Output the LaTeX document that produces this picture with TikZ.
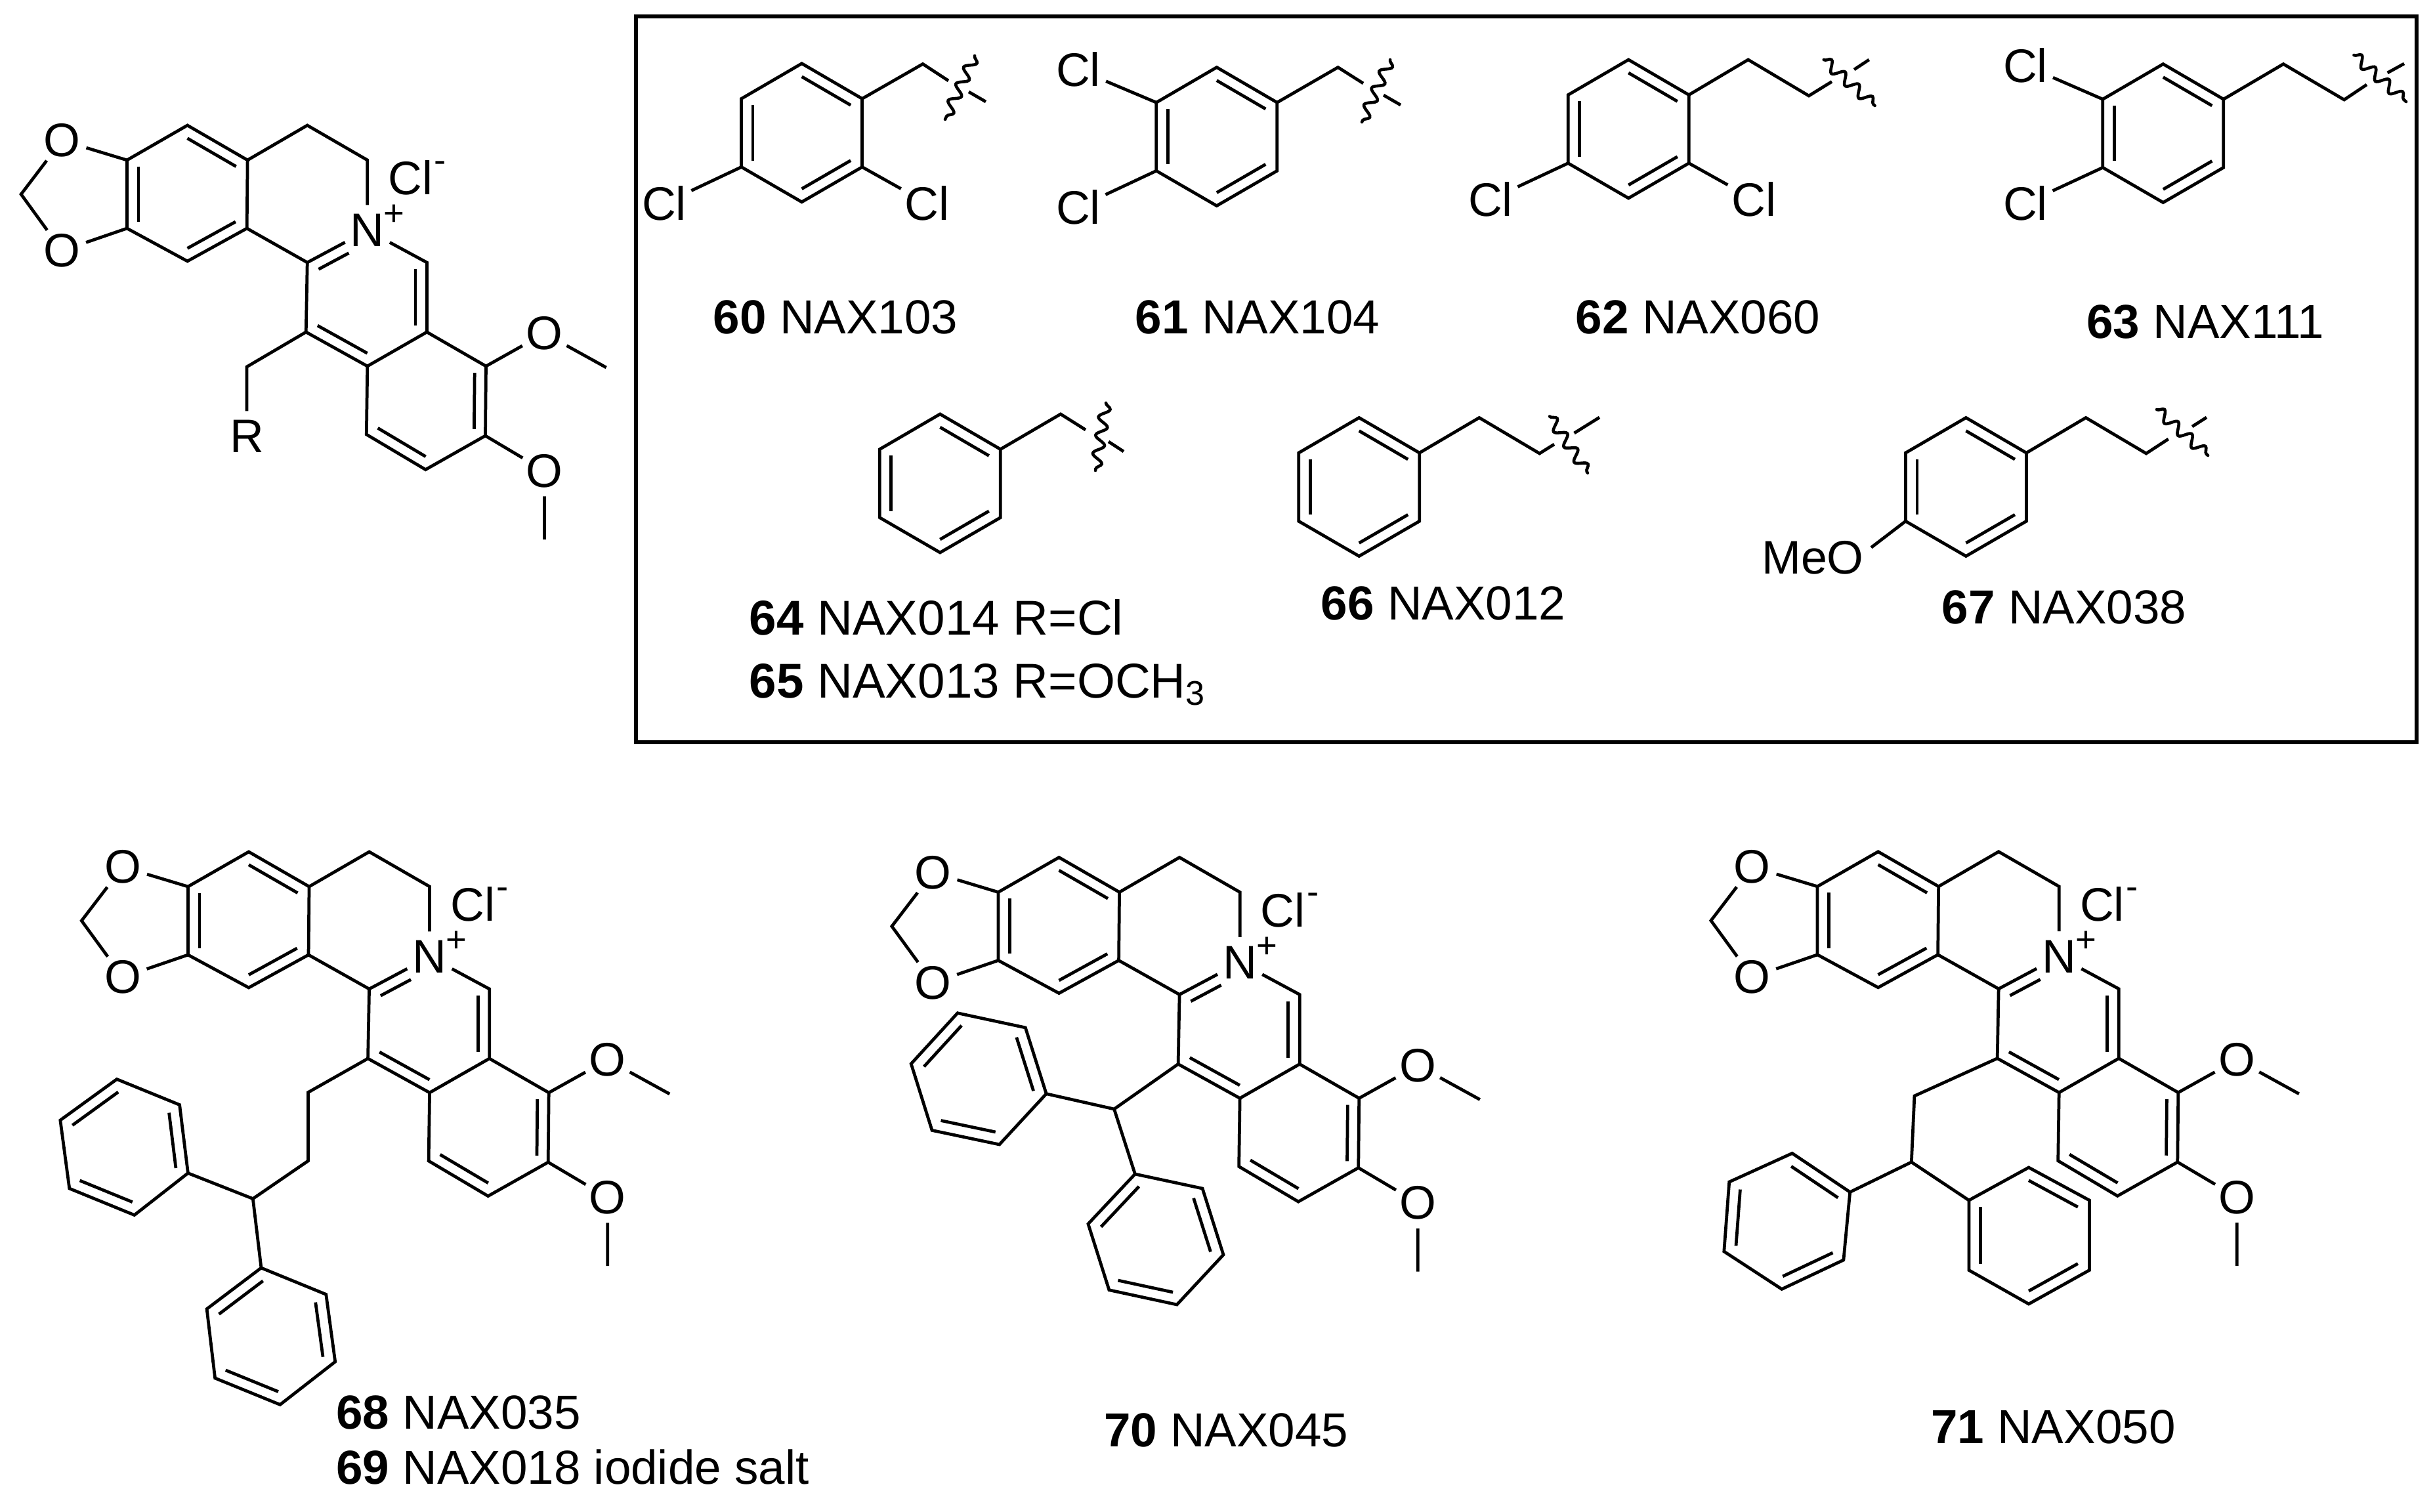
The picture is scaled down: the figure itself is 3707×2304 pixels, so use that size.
\documentclass[tikz,border=0pt]{standalone}
\usepackage{fontspec}
\setmainfont{Liberation Sans}
\usetikzlibrary{calc,decorations.pathmorphing}

\tikzset{
  bond/.style={line width=1.35pt, line join=miter},
  wavy/.style={line width=1.3pt, line cap=round, decorate, decoration={snake, segment length=.28cm, amplitude=.08cm}},
  atom/.style={circle, inner sep=0pt, minimum size=.76cm, font=\fontsize{20.4}{24}\selectfont},
  clatom/.style={circle, inner sep=0pt, minimum size=.9cm, font=\fontsize{20.4}{24}\selectfont},
  charge/.style={inner sep=0pt, font=\fontsize{15.5}{18}\selectfont},
  caption/.style={inner sep=0pt, anchor=base, font=\fontsize{20.7}{24}\selectfont},
  widecaption/.style={caption, anchor=base west, font=\fontsize{21.2}{24}\selectfont},
}

% inner line of a double bond: ring centre, then the two ends
\newcommand{\dbl}[3]{\draw[bond] ($(#1)!.81!(#2)$) -- ($(#1)!.81!(#3)$);}

% six-membered ring with three double bonds (1-2, 3-4, 5-6)
\newcommand{\phenyl}[7]{
  \coordinate (#1-1) at #2;
  \coordinate (#1-2) at #3;
  \coordinate (#1-3) at #4;
  \coordinate (#1-4) at #5;
  \coordinate (#1-5) at #6;
  \coordinate (#1-6) at #7;
  \coordinate (#1-c) at ($(#1-1)!.5!(#1-4)$);
  \draw[bond] (#1-1) -- (#1-2) -- (#1-3) -- (#1-4) -- (#1-5) -- (#1-6) -- cycle;
  \dbl{#1-c}{#1-1}{#1-2}
  \dbl{#1-c}{#1-3}{#1-4}
  \dbl{#1-c}{#1-5}{#1-6}
}

% upright ring of the boxed fragments, given by its top corner
\newcommand{\uprightring}[3]{
  \begin{scope}[shift={(#2,#3)}]
    \phenyl{#1}{(0,0)}{(92,53.6)}{(92,157.7)}{(0,211)}{(-92,157.7)}{(-92,53.6)}
  \end{scope}
}

% the tetracyclic cation, placed by its corner a
\newcommand{\cation}[4][]{
  \begin{scope}[shift={(#3,#4)}, #1, name prefix=#2-]
    \coordinate (a) at (0,0);
    \coordinate (b) at (93,-53);
    \coordinate (c) at (185.5,0);
    \coordinate (d) at (184.5,104);
    \coordinate (e) at (93,154);
    \coordinate (f) at (0,104);
    \coordinate (g) at (277.5,-53);
    \coordinate (h) at (370,0);
    \coordinate (i) at (277.5,156);
    \coordinate (j) at (461.5,156);
    \coordinate (k) at (275.5,262);
    \coordinate (l) at (461.5,262);
    \coordinate (m) at (370,314);
    \coordinate (n) at (552.5,314);
    \coordinate (p) at (551.5,420);
    \coordinate (q) at (459.5,471.6);
    \coordinate (r) at (368.5,418);
    \coordinate (ch) at (-163,52);
    \coordinate (me1) at (737.5,316);
    \coordinate (me2) at (642.5,578);
    \coordinate (c1) at (92.75,51);
    \coordinate (c3) at (369,210);
    \coordinate (c4) at (460.5,367);
    \node[atom] (o1) at (-100,-30) {O};
    \node[atom] (o2) at (-100,138) {O};
    \node[atom] (nplus) at (370,107) {N};
    \node[atom] (o3) at (642.5,264) {O};
    \node[atom] (o4) at (642.5,473.6) {O};
    \node[charge] (plus) at (411,84) {+};
    \node[clatom] (cl) at (436,27) {Cl};
    \node[charge] (minus) at (482,10) {-};

    % bonds of the skeleton
    \draw[bond] (a) -- (b) -- (c) -- (d) -- (e) -- (f) -- cycle;
    \draw[bond] (a) -- (o1) -- (ch) -- (o2) -- (f);
    \draw[bond] (c) -- (g) -- (h) -- (nplus);
    \draw[bond] (d) -- (i) -- (k) -- (m) -- (l) -- (j) -- (nplus);
    \draw[bond] (i) -- (nplus);
    \draw[bond] (m) -- (r) -- (q) -- (p) -- (n) -- (l);
    \draw[bond] (n) -- (o3) -- (me1);
    \draw[bond] (p) -- (o4) -- (me2);

    % inner lines
    \dbl{c1}{a}{f}
    \dbl{c1}{b}{c}
    \dbl{c1}{d}{e}
    \draw[bond] ($(c3)!.81!(i)$) -- ($(c3)!.81!($(i)!.62!(nplus)$)$);
    \dbl{c3}{j}{l}
    \dbl{c3}{k}{m}
    \dbl{c4}{n}{p}
    \dbl{c4}{q}{r}
  \end{scope}
}

\begin{document}
\begin{tikzpicture}[x=.01cm, y=-.01cm]
  \useasboundingbox (0,0) rectangle (3707,2304);

  % Top left cation
  \cation[xscale=.99]{m0}{193.5}{244}
  \coordinate (s0) at (376,559);
  \node[atom] (rgroup) at (376,665) {R};
  \draw[bond] (m0-k) -- (s0) -- (rgroup);

  % Box of the fragments
  \draw[line width=1.6pt] (969,25) rectangle (3682,1131);

  % 60
  \uprightring{r60}{1221.6}{96.8}
  \coordinate (a60) at (1406,97.5);
  \coordinate (b60) at (1445,123);
  \coordinate (w60a) at (1485,85);
  \coordinate (w60b) at (1440,182);
  \coordinate (t60a) at (1476,140);
  \coordinate (t60b) at (1502,155);
  \node[clatom] (cl60a) at (1012,310) {Cl};
  \node[clatom] (cl60b) at (1412.7,310) {Cl};
  \draw[bond] (r60-2) -- (a60) -- (b60);
  \draw[bond] (t60a) -- (t60b);
  \draw[wavy] (w60a) -- (w60b);
  \draw[bond] (r60-5) -- (cl60a);
  \draw[bond] (r60-3) -- (cl60b);
  \node[caption] (n60) at (1273,509) {\textbf{60} NAX103};

  % 61
  \uprightring{r61}{1853.8}{102.6}
  \coordinate (a61) at (2038.6,102.6);
  \coordinate (b61) at (2077,127);
  \coordinate (w61a) at (2118,91);
  \coordinate (w61b) at (2075,186);
  \coordinate (t61a) at (2108,145);
  \coordinate (t61b) at (2134,160);
  \node[clatom] (cl61a) at (1643,106) {Cl};
  \node[clatom] (cl61b) at (1643,316) {Cl};
  \draw[bond] (r61-2) -- (a61) -- (b61);
  \draw[bond] (t61a) -- (t61b);
  \draw[wavy] (w61a) -- (w61b);
  \draw[bond] (r61-6) -- (cl61a);
  \draw[bond] (r61-5) -- (cl61b);
  \node[caption] (n61) at (1916,509) {\textbf{61} NAX104};

  % 62
  \uprightring{r62}{2481.2}{91}
  \coordinate (a62) at (2663.5,91);
  \coordinate (b62) at (2756,146);
  \coordinate (c62) at (2791,124.4);
  \coordinate (w62a) at (2778.7,91);
  \coordinate (w62b) at (2856.5,161);
  \coordinate (t62a) at (2825,106);
  \coordinate (t62b) at (2847.7,91);
  \node[clatom] (cl62a) at (2271,304) {Cl};
  \node[clatom] (cl62b) at (2672.3,304) {Cl};
  \draw[bond] (r62-2) -- (a62) -- (b62) -- (c62);
  \draw[bond] (t62a) -- (t62b);
  \draw[wavy] (w62a) -- (w62b);
  \draw[bond] (r62-5) -- (cl62a);
  \draw[bond] (r62-3) -- (cl62b);
  \node[caption] (n62) at (2587,509) {\textbf{62} NAX060};

  % 63
  \uprightring{r63}{3295.8}{97.6}
  \coordinate (a63) at (3479,97.6);
  \coordinate (b63) at (3571.6,152);
  \coordinate (c63) at (3606,129);
  \coordinate (w63a) at (3586.4,84);
  \coordinate (w63b) at (3666,155);
  \coordinate (t63a) at (3637.6,111);
  \coordinate (t63b) at (3663,97);
  \node[clatom] (cl63a) at (3086,100) {Cl};
  \node[clatom] (cl63b) at (3086,310) {Cl};
  \draw[bond] (r63-2) -- (a63) -- (b63) -- (c63);
  \draw[bond] (t63a) -- (t63b);
  \draw[wavy] (w63a) -- (w63b);
  \draw[bond] (r63-6) -- (cl63a);
  \draw[bond] (r63-5) -- (cl63b);
  \node[caption] (n63) at (3360,515.5) {\textbf{63} NAX111};

  % 64 and 65
  \uprightring{r64}{1432.3}{631}
  \coordinate (a64) at (1616,631);
  \coordinate (b64) at (1654,655);
  \coordinate (w64a) at (1685,614);
  \coordinate (w64b) at (1669,717);
  \coordinate (t64a) at (1689,673);
  \coordinate (t64b) at (1712,688);
  \draw[bond] (r64-2) -- (a64) -- (b64);
  \draw[bond] (t64a) -- (t64b);
  \draw[wavy] (w64a) -- (w64b);
  \node[widecaption] (n64) at (1141,967.6) {\textbf{64} NAX014 R=Cl};
  \node[widecaption] (n65) at (1141,1063) {\textbf{65} NAX013 R=OCH\textsubscript{3}};

  % 66
  \uprightring{r66}{2070.7}{636.5}
  \coordinate (a66) at (2253.8,636.5);
  \coordinate (b66) at (2345.7,691);
  \coordinate (c66) at (2368,677);
  \coordinate (w66a) at (2361,634.6);
  \coordinate (w66b) at (2419,720.7);
  \coordinate (t66a) at (2398.5,660);
  \coordinate (t66b) at (2437,636);
  \draw[bond] (r66-2) -- (a66) -- (b66) -- (c66);
  \draw[bond] (t66a) -- (t66b);
  \draw[wavy] (w66a) -- (w66b);
  \node[caption] (n66) at (2199,944.6) {\textbf{66} NAX012};

  % 67
  \uprightring{r67}{2995.4}{636.5}
  \coordinate (a67) at (3178,636.5);
  \coordinate (b67) at (3270,691);
  \coordinate (c67) at (3303.7,669);
  \coordinate (w67a) at (3286,624);
  \coordinate (w67b) at (3364,694);
  \coordinate (t67a) at (3340,650);
  \coordinate (t67b) at (3362,636);
  \node[inner sep=3pt, font=\fontsize{20.4}{24}\selectfont] (meo) at (2762,850) {MeO};
  \draw[bond] (r67-2) -- (a67) -- (b67) -- (c67);
  \draw[bond] (t67a) -- (t67b);
  \draw[wavy] (w67a) -- (w67b);
  \draw[bond] (r67-5) -- (meo.10);
  \node[caption] (n67) at (3145,950) {\textbf{67} NAX038};

  % 68 and 69
  \begin{scope}[shift={(60,0)}, xscale=.995, shift={(-60,0)}]
    \cation{m68}{287.6}{1351}
    \coordinate (s68a) at (471.5,1664.6);
    \coordinate (s68b) at (471.5,1769);
    \coordinate (s68c) at (387,1826.6);
    \phenyl{ph68a}{(287.6,1787.6)}{(274.7,1683.5)}{(178.6,1644.5)}{(92,1707)}{(106,1811)}{(205.5,1851.5)}
    \phenyl{ph68b}{(399.7,1932)}{(316.4,1994.6)}{(329,2100)}{(428.6,2140.4)}{(513,2075)}{(499,1972.4)}
    \draw[bond] (m68-k) -- (s68a) -- (s68b) -- (s68c) -- (ph68a-1);
    \draw[bond] (s68c) -- (ph68b-1);
    \node[caption, anchor=base west] (n68) at (514,2177.4) {\textbf{68} NAX035};
    \node[caption, anchor=base west] (n69) at (514,2261) {\textbf{69} NAX018 iodide salt};
  \end{scope}

  % 70
  \begin{scope}[shift={(1320,0)}, xscale=.995, shift={(-1320,0)}]
    \cation{m70}{1522}{1359.5}
    \coordinate (s70) at (1699.5,1690);
    \phenyl{ph70a}{(1595.6,1666.7)}{(1563.6,1565.9)}{(1459.7,1543.7)}{(1388.6,1621)}{(1420.6,1722.4)}{(1523.8,1744)}
    \phenyl{ph70b}{(1731.5,1789)}{(1659.7,1865)}{(1691.8,1965.7)}{(1795.6,1988)}{(1866.8,1912)}{(1834.7,1811)}
    \draw[bond] (m70-k) -- (s70) -- (ph70a-1);
    \draw[bond] (s70) -- (ph70b-1);
    \node[caption] (n70) at (1871,2204) {\textbf{70} NAX045};
  \end{scope}

  % 71
  \begin{scope}[shift={(2600,0)}, xscale=.995, shift={(-2600,0)}]
    \cation{m71}{2769.9}{1350.8}
    \coordinate (s71a) at (2918.6,1670);
    \coordinate (s71b) at (2914,1770.8);
    \phenyl{ph71a}{(2819.9,1816.5)}{(2731.4,1757.4)}{(2635,1801)}{(2627,1907)}{(2715.4,1964.4)}{(2810,1920)}
    \phenyl{ph71b}{(3093.6,1779)}{(3186.5,1829)}{(3186.5,1935.5)}{(3093.6,1987)}{(3002,1935.5)}{(3002,1829)}
    \draw[bond] (m71-k) -- (s71a) -- (s71b) -- (ph71a-1);
    \draw[bond] (s71b) -- (ph71b-6);
    \node[caption] (n71) at (3131,2199) {\textbf{71} NAX050};
  \end{scope}
\end{tikzpicture}
\end{document}
